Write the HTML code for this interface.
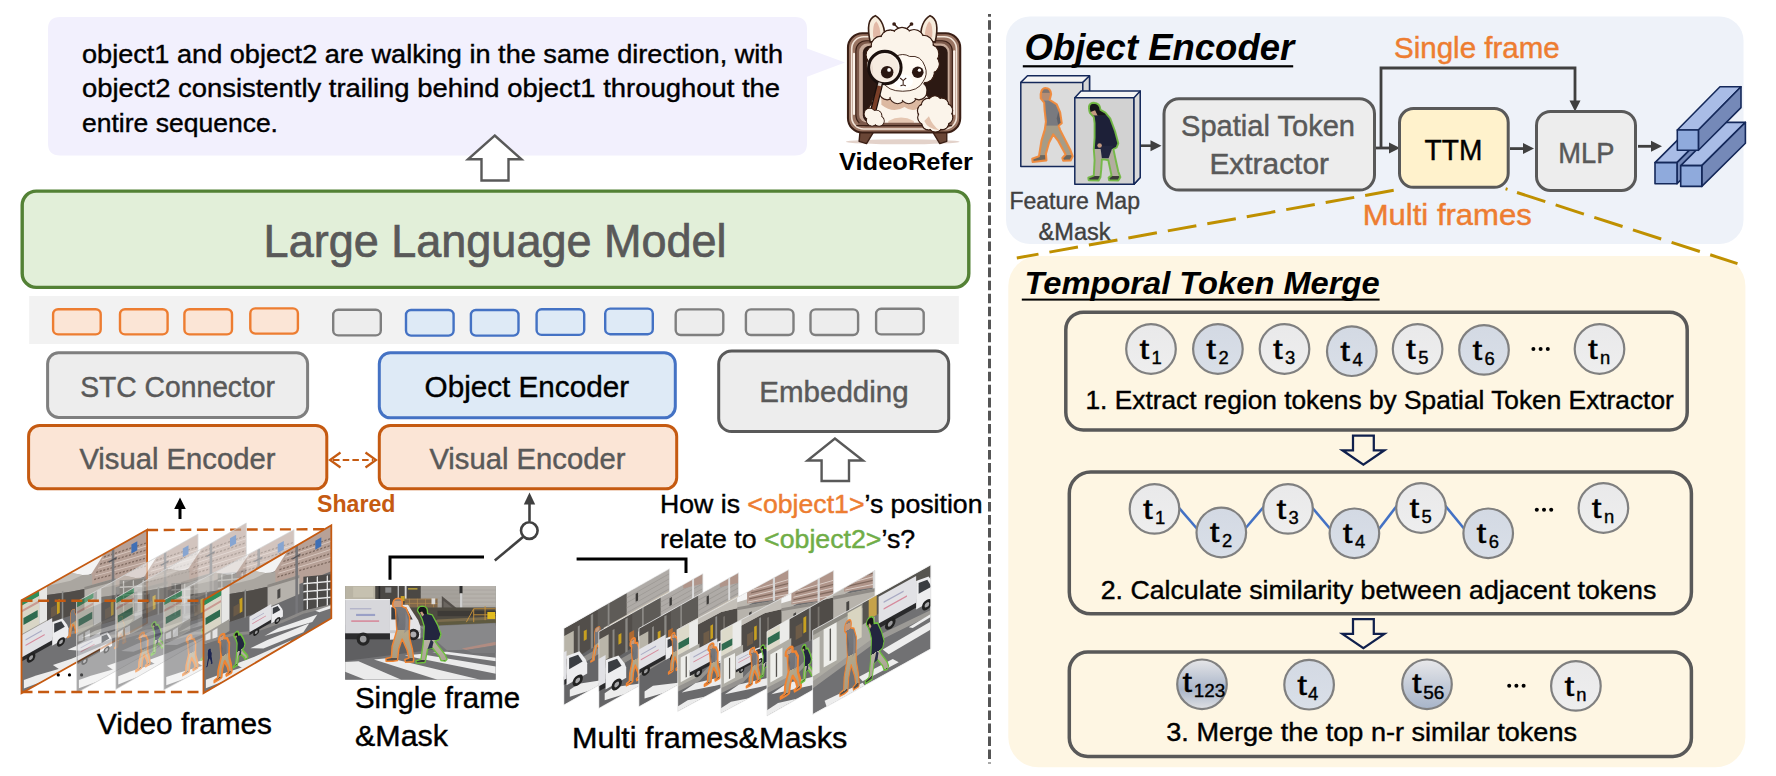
<!DOCTYPE html>
<html>
<head>
<meta charset="utf-8">
<title>VideoRefer architecture</title>
<style>
html,body{margin:0;padding:0;background:#fff;}
body{width:1776px;height:776px;overflow:hidden;font-family:"Liberation Sans",sans-serif;}
svg{display:block;}
text{font-family:"Liberation Sans",sans-serif;}
.g{fill:#595959;stroke:#595959;stroke-width:.45px;}
.k{fill:#000;stroke:#000;stroke-width:.4px;}
.o{fill:#ed7d31;stroke:#ed7d31;stroke-width:.45px;}
.b{stroke:none;}
.gr{fill:#70ad47;stroke:#70ad47;stroke-width:.45px;}
.d{fill:#404040;stroke:#404040;stroke-width:.4px;}
</style>
</head>
<body>
<svg width="1776" height="776" viewBox="0 0 1776 776">
<defs>
  <linearGradient id="gCirc" x1="0" y1="0" x2="0" y2="1">
    <stop offset="0" stop-color="#e9e9ea"/><stop offset="1" stop-color="#eeeeee"/>
  </linearGradient>
  <linearGradient id="gCircB" x1="0" y1="0" x2="0" y2="1">
    <stop offset="0" stop-color="#d3d9e3"/><stop offset="1" stop-color="#d9dfe8"/>
  </linearGradient>
  <linearGradient id="gCircD" x1="0" y1="0" x2="0" y2="1">
    <stop offset="0" stop-color="#e8e8ea"/><stop offset="0.5" stop-color="#c6cdd9"/><stop offset="1" stop-color="#a7b4c9"/>
  </linearGradient>
  <linearGradient id="gCircE" x1="0" y1="0" x2="0" y2="1">
    <stop offset="0" stop-color="#e6e6e8"/><stop offset="0.6" stop-color="#a9b5c9"/><stop offset="1" stop-color="#dfe0e3"/>
  </linearGradient>
  
  <linearGradient id="gP1" x1="0" y1="0" x2="0" y2="1">
    <stop offset="0" stop-color="#8d8078"/><stop offset="0.045" stop-color="#8d8078"/>
    <stop offset="0.045" stop-color="#c59a7c"/><stop offset="0.13" stop-color="#c59a7c"/>
    <stop offset="0.13" stop-color="#77787c"/><stop offset="0.5" stop-color="#707176"/>
    <stop offset="0.5" stop-color="#b4a88c"/><stop offset="0.94" stop-color="#a89c82"/>
    <stop offset="0.94" stop-color="#5a5048"/><stop offset="1" stop-color="#5a5048"/>
  </linearGradient>
  <linearGradient id="gP2" x1="0" y1="0" x2="0" y2="1">
    <stop offset="0" stop-color="#16161a"/><stop offset="0.13" stop-color="#16161a"/>
    <stop offset="0.13" stop-color="#23263f"/><stop offset="0.6" stop-color="#23263f"/>
    <stop offset="0.6" stop-color="#b9b3a4"/><stop offset="0.94" stop-color="#aca594"/>
    <stop offset="0.94" stop-color="#3a3a3a"/><stop offset="1" stop-color="#3a3a3a"/>
  </linearGradient>

  <!-- detailed pedestrians, coordinates of the close-up scene (1125x700) -->
  <path id="ped1p" d="M395,92 Q428,94 428,128 L424,152 L456,166 L482,232 L479,322 L482,392 L502,470 L512,545 L509,566 L451,569 L446,549 L476,538 L463,480 L426,396 L401,470 L391,556 L356,561 L306,561 L305,541 L346,532 L351,450 L386,332 L381,240 L376,172 L356,150 Q352,96 395,92 Z" fill="url(#gP1)" stroke="#f08432" stroke-linejoin="round"/>
  <path id="ped2p" d="M575,150 Q612,152 614,182 L616,206 L651,216 L691,290 L716,360 L702,401 L671,411 L691,441 L746,511 L761,546 L746,561 L716,556 L701,521 L651,461 L616,471 L601,551 L596,571 L531,576 L529,558 L566,548 L581,441 L586,391 L591,301 L576,251 L561,216 L541,186 Q540,152 575,150 Z" fill="url(#gP2)" stroke="#6cc03c" stroke-linejoin="round"/>
  <g id="ped1d"><path d="M384,172 L380,240 L388,320 L402,250 Z" fill="#5d5e62" opacity="0.6"/><path d="M452,190 L470,250 L468,330 L440,352 L450,300 Z" fill="#8b8c90" opacity="0.7"/></g>
  <g id="ped2d"><path d="M560,196 L575,190 L590,215 L575,228 Z" fill="#c9a083"/><path d="M616,470 L650,462 L660,418 L640,400 Z" fill="#2a2c48"/></g>
  <symbol id="ped1" viewBox="295 82 225 496" overflow="visible" preserveAspectRatio="none"><use href="#ped1p" stroke-width="11"/><use href="#ped1d"/></symbol>
  <symbol id="ped2" viewBox="518 140 252 446" overflow="visible" preserveAspectRatio="none"><use href="#ped2p" stroke-width="10"/><use href="#ped2d"/></symbol>
  <symbol id="ped1t" viewBox="295 82 225 496" overflow="visible" preserveAspectRatio="none"><use href="#ped1p" stroke-width="22"/><use href="#ped1d"/></symbol>
  <symbol id="ped2t" viewBox="518 140 252 446" overflow="visible" preserveAspectRatio="none"><use href="#ped2p" stroke-width="20"/><use href="#ped2d"/></symbol>

  <!-- simple small pedestrian (40x100 box) -->
  <symbol id="sp" viewBox="0 0 40 100" overflow="visible">
    <path d="M20,1 Q28,1 28,9 L27,16 L33,32 L32,48 L35,62 L38,90 L40,96 L30,97 L29,91 L31,88 L26,68 L21,57 L15,73 L11,94 L11,98 L0,98 L0,94 L5,92 L8,70 L13,50 L12,34 L12,18 Q12,1 20,1 Z"/>
  </symbol>

  <!-- close-up street scene (single frame) -->
  <symbol id="closeScene" viewBox="0 0 1125 700" preserveAspectRatio="none">
    <rect x="0" y="0" width="1125" height="700" fill="#747476"/>
    <!-- buildings -->
    <rect x="0" y="0" width="230" height="100" fill="#b9b4a4"/>
    <rect x="60" y="5" width="150" height="80" fill="#c6c1b0"/>
    <rect x="225" y="0" width="345" height="150" fill="#4b4844"/>
    <rect x="250" y="0" width="12" height="95" fill="#2a2a2a"/>
    <rect x="392" y="0" width="10" height="90" fill="#bdbdbd"/>
    <rect x="300" y="10" width="45" height="40" fill="#8a8a8a"/>
    <rect x="445" y="0" width="14" height="100" fill="#d8d8d8"/>
    <rect x="415" y="75" width="30" height="38" fill="#c9a227"/>
    <rect x="470" y="15" width="70" height="12" fill="#b09a3a"/>
    <rect x="565" y="0" width="560" height="185" fill="#a5a19b"/>
    <rect x="880" y="0" width="245" height="185" fill="#b6b2ac"/>
    <g stroke="#97938d" stroke-width="3"><path d="M565,30 H1125 M565,60 H1125 M565,90 H1125 M565,120 H1125 M565,150 H1125"/></g>
    <rect x="854" y="0" width="22" height="55" fill="#2c2c2c"/>
    <rect x="858" y="55" width="18" height="125" fill="#cfcfcf"/>
    <polygon points="722,75 865,192 722,192" fill="#55504b"/>
    <polygon points="735,110 840,192 735,192" fill="#6b6660"/>
    <!-- fence -->
    <rect x="445" y="95" width="245" height="68" fill="#80684c"/>
    <g stroke="#b38a4e" stroke-width="5"><path d="M445,98 H690 M445,130 H690 M480,95 V163 M540,95 V163 M600,95 V163 M660,95 V163"/></g>
    <rect x="645" y="92" width="28" height="44" fill="#dcdcdc"/>
    <!-- mid band -->
    <rect x="470" y="160" width="655" height="135" fill="#4f4b42"/>
    <rect x="690" y="185" width="435" height="40" fill="#3d3a36"/>
    <polygon points="690,250 1125,228 1125,290 600,300" fill="#7b6c4e"/>
    <polygon points="700,268 1125,250 1125,290 620,300" fill="#5f5a40"/>
    <g stroke="#c8923c" stroke-width="7" fill="none"><path d="M905,270 L960,170 H1125 M960,170 V270 M1045,150 V255 M960,215 H1125"/></g>
    <rect x="1062" y="194" width="58" height="52" fill="#e2bb1f"/>
    <!-- road -->
    <polygon points="0,290 560,300 1125,275 1125,700 0,700" fill="#737375"/>
    <polygon points="560,305 1125,278 1125,470 760,480" fill="#88888a"/>
    <polygon points="870,466 1125,416 1125,442 905,478" fill="#b08c82"/>
    <polygon points="905,478 1125,442 1125,500 950,500" fill="#7c7c7e"/>
    <polygon points="0,400 600,385 700,470 0,560" fill="#5f5f61"/>
    <!-- truck -->
    <rect x="0" y="348" width="365" height="50" fill="#2c2c2e"/>
    <rect x="0" y="97" width="335" height="256" fill="#d7d7db"/>
    <rect x="0" y="97" width="335" height="8" fill="#efefef"/>
    <rect x="36" y="166" width="160" height="8" fill="#a9aac4"/>
    <rect x="82" y="208" width="142" height="16" fill="#9aa0c6"/>
    <rect x="46" y="256" width="208" height="12" fill="#d68a9c"/>
    <polygon points="335,140 470,140 545,255 562,300 562,392 335,402" fill="#e6e6e8"/>
    <polygon points="345,158 455,158 505,250 345,250" fill="#3a3d42"/>
    <rect x="335" y="330" width="227" height="22" fill="#c9c9cb"/>
    <circle cx="135" cy="396" r="49" fill="#262626"/><circle cx="135" cy="396" r="25" fill="#9c9c9e"/>
    <circle cx="510" cy="362" r="43" fill="#262626"/><circle cx="510" cy="362" r="22" fill="#adadaf"/>
    <!-- crosswalk -->
    <g fill="#ebebeb">
      <polygon points="0,568 100,562 420,700 150,700 0,640"/>
      <polygon points="215,548 330,538 1010,700 690,700"/>
      <polygon points="445,518 560,508 1125,600 1125,655"/>
      <polygon points="650,495 760,490 1125,535 1125,562"/>
    </g>
    <use href="#ped1" x="295" y="82" width="225" height="496"/>
    <use href="#ped2" x="518" y="140" width="252" height="446"/>
  </symbol>

  <!-- wide street scene (video frames), 128x93 -->
  <symbol id="wideBg" viewBox="0 0 128 93" preserveAspectRatio="none">
    <rect x="0" y="0" width="128" height="93" fill="#6c6c6e"/>
    <!-- sky -->
    <polygon points="44,0 100,0 100,10 80,14 60,11 44,4" fill="#f3f3f3"/>
    <!-- brown apartment building -->
    <polygon points="70,14 84,0 128,0 128,46 96,40 70,27" fill="#b7a197"/>
    <g stroke="#7e6a60" stroke-width="1.3" stroke-dasharray="2.2 1.6"><path d="M80,8 L128,20 M76,14 L128,28 M74,20 L128,36 M84,3 L128,13"/></g>
    <g stroke="#d8c8c0" stroke-width="0.8"><path d="M82,5 L128,16 M78,11 L128,24 M75,17 L128,32"/></g>
    <rect x="112" y="6" width="6" height="9" fill="#3f6fb5"/>
    <!-- concrete overpass -->
    <polygon points="18,0 50,0 62,9 72,14 72,27 50,19 26,9 18,6" fill="#aaa6a0"/>
    <polygon points="26,0 50,0 62,9 50,8" fill="#c4c0ba"/>
    <!-- light grey building -->
    <polygon points="64,22 96,31 96,50 64,45" fill="#b6b2ac"/>
    <polygon points="64,22 96,31 96,34 64,25" fill="#8d8984"/>
    <rect x="74" y="33" width="3" height="9" fill="#4a4846"/>
    <!-- underpass dark -->
    <polygon points="26,9 50,19 64,24 64,45 50,43 26,37" fill="#504c48"/>
    <rect x="36" y="20" width="3" height="14" fill="#c8a020"/>
    <rect x="41" y="14" width="1.6" height="28" fill="#8a8a88"/>
    <rect x="30" y="24" width="6" height="10" fill="#6a5a48"/>
    <!-- left facade -->
    <rect x="0" y="5" width="18" height="36" fill="#d9d6c6"/>
    <rect x="0" y="0" width="18" height="5.5" fill="#2f8f5a"/>
    <rect x="0" y="10" width="18" height="2.4" fill="#c99a92"/>
    <rect x="2" y="19" width="14.5" height="7" fill="#2f6b4f"/>
    <rect x="18" y="0" width="8" height="36" fill="#e7e7e5"/>
    <rect x="0" y="34" width="26" height="12" fill="#9c9a94"/>
    <rect x="2" y="36" width="5" height="9" fill="#e4e4e4"/><rect x="9" y="36" width="5" height="9" fill="#e4e4e4"/>
    <!-- fence + pole -->
    <polygon points="100,35 128,49 128,80 100,69" fill="#4c4a48"/>
    <g stroke="#e8e8e8" stroke-width="1.3" fill="none"><path d="M100,42 L128,56 M100,50 L128,64 M100,58 L128,72 M104,38 V70 M114,43 V74 M124,48 V79"/></g>
    <rect x="92" y="0" width="2.6" height="73" fill="#77777a"/>
    <rect x="89" y="10" width="8" height="1.6" fill="#55555a"/>
    <!-- road -->
    <polygon points="0,44 30,53 46,61 80,69 100,72 128,82 128,93 0,93" fill="#727274"/>
    <polygon points="0,41 30,50 46,58 80,66 100,69 128,79 128,82 100,72 80,69 46,61 30,53 0,44" fill="#8c8a88"/>
    <g fill="#ececec">
      <polygon points="61,71.5 75,71.8 114,81 109,85.5"/>
      <polygon points="47,75.5 64,77.3 106,85 100,90.5 60,83.5"/>
      <polygon points="32,82.5 51,86.5 88,91.5 76,96 40,92"/>
      <polygon points="2.4,81 15,83.6 50,92.7 27,94 2.4,89.5"/>
      <polygon points="112,76 128,80 128,83 116,80"/>
    </g>
  </symbol>

  <!-- mid-range street scene for multi frames, 112x83 -->
  <symbol id="midBg" viewBox="0 0 112 83" preserveAspectRatio="none">
    <rect x="0" y="0" width="112" height="83" fill="#6d6d6f"/>
    <rect x="0" y="0" width="112" height="14" fill="#bab6af"/>
    <polygon points="56,0 72,0 72,8 56,4" fill="#f4f4f4"/>
    <polygon points="70,0 112,0 112,29 70,11.5" fill="#b0958a"/>
    <g stroke="#80695e" stroke-width="1.2"><path d="M74,3 L112,14 M72,8 L112,21"/></g>
    <g stroke="#dccfc8" stroke-width="0.9"><path d="M76,1 L112,10 M72,5.5 L112,17.5 M71,10.5 L112,25"/></g>
    <rect x="96" y="0" width="2.2" height="40" fill="#d6d6d6"/>
    <polygon points="60,10 112,29 112,47 60,38" fill="#b7b3ac"/>
    <polygon points="60,10 112,29 112,32 60,13" fill="#8f8b86"/>
    <rect x="72" y="22" width="2.6" height="9" fill="#474543"/>
    <polygon points="20,6 44,6 60,11 60,40 20,35" fill="#504c48"/>
    <polygon points="20,0 60,0 60,11 44,6 20,6" fill="#c3bfb8"/>
    <rect x="33" y="14" width="2.6" height="14" fill="#c8a020"/>
    <rect x="38" y="8" width="1.8" height="30" fill="#8c8c8a"/>
    <rect x="26" y="18" width="6" height="12" fill="#6e5c48"/>
    <rect x="46" y="12" width="1.6" height="28" fill="#77736d"/>
    <rect x="0" y="0" width="20" height="27" fill="#dddaca"/>
    <rect x="0.6" y="14" width="11" height="6.7" fill="#2f6b4f"/>
    <rect x="11.6" y="0" width="8.8" height="27" fill="#ebebe9"/>
    <rect x="0" y="26" width="22" height="34" fill="#b0aea6"/>
    <rect x="3" y="30" width="11" height="25" fill="#eeeeea"/><rect x="8" y="32" width="1.2" height="21" fill="#55534f"/>
    <polygon points="0,58 22,59 60,40 112,48 112,53 60,46 22,65 0,64" fill="#959390"/>
    <polygon points="0,63 22,64 60,45 112,52 112,83 0,83" fill="#6a6a6c"/>
    <g fill="#ececec">
      <polygon points="4,66 18,64 70,80 56,83 40,78"/>
      <polygon points="40,56 52,54 112,71 112,76 96,73"/>
      <polygon points="0,78 10,77 28,83 0,83"/>
      <polygon points="70,50 80,49 112,57 112,60"/>
    </g>
  </symbol>

  <symbol id="nearBg" viewBox="0 0 106 77" preserveAspectRatio="none">
    <rect x="0" y="0" width="106" height="77" fill="#656567"/>
    <polygon points="0,0 64,0 64,32 0,38" fill="#524e4a"/>
    <polygon points="34,0 64,0 64,24 34,27" fill="#5e5b57"/>
    <rect x="63" y="0" width="43" height="23" fill="#afaba7"/>
    <g stroke="#9c9894" stroke-width="0.8"><path d="M63,5 H106 M63,10 H106 M63,15 H106 M63,20 H106"/></g>
    <rect x="72" y="6" width="2.4" height="8" fill="#3c3a38"/>
    <rect x="40" y="22" width="66" height="9" fill="#cbc3b4"/>
    <rect x="40" y="31" width="66" height="10" fill="#494643"/>
    <rect x="0" y="8" width="10" height="24" fill="#b9b5a9"/>
    <g fill="#8a8884"><rect x="14" y="6" width="2" height="30"/><rect x="27" y="2" width="2.4" height="34"/><rect x="44" y="0" width="1.8" height="36"/></g>
    <rect x="20" y="14" width="3" height="10" fill="#c8a020"/><rect x="31" y="18" width="5" height="9" fill="#b06a30"/><rect x="50" y="26" width="3" height="9" fill="#c8a020"/>
    <polygon points="0,40 106,38 106,43 0,47" fill="#8f8d8a"/>
    <polygon points="0,47 106,43 106,77 0,77" fill="#656567"/>
    <g fill="#ececec"><polygon points="6,65 15,64 44,76 38,80 6,72"/><polygon points="60,52 72,51 106,62 106,66 92,63"/></g>
  </symbol>

  <symbol id="truckS" viewBox="0 0 36 24" overflow="visible">
    <rect x="0" y="14" width="24" height="5" fill="#2a2a2c"/>
    <rect x="0" y="0" width="22.5" height="16" fill="#e1e1e5"/>
    <rect x="3" y="4.5" width="12" height="0.9" fill="#a9aac4"/><rect x="3" y="8.5" width="14" height="0.9" fill="#d68a9c"/>
    <polygon points="22.5,3 30,4.5 33.5,11 34.5,14 34.5,20 22.5,20" fill="#ededef"/>
    <polygon points="24,5 29.2,6 31.8,11.5 24,11.5" fill="#3a3d42"/>
    <circle cx="7" cy="20" r="3.2" fill="#222"/><circle cx="7" cy="20" r="1.5" fill="#9a9a9c"/>
    <circle cx="29" cy="20.8" r="3" fill="#222"/><circle cx="29" cy="20.8" r="1.4" fill="#a8a8aa"/>
  </symbol>

</defs>
<rect x="0" y="0" width="1776" height="776" fill="#ffffff"/>

<!-- ================= LEFT SIDE ================= -->
<g id="left">
  <!-- speech bubble -->
  <path d="M60,17 H795 Q807,17 807,29 V48.5 L845,62.6 L807,76.7 V143.5 Q807,155.5 795,155.5 H60 Q48,155.5 48,143.5 V29 Q48,17 60,17 Z" fill="#f2f0fd"/>
  <text class="k" x="82" y="62.6" font-size="26.5" textLength="701" lengthAdjust="spacingAndGlyphs">object1 and object2 are walking in the same direction, with</text>
  <text class="k" x="82" y="96.6" font-size="26.5" textLength="698" lengthAdjust="spacingAndGlyphs">object2 consistently trailing behind object1 throughout the</text>
  <text class="k" x="82" y="131.6" font-size="26.5" textLength="196" lengthAdjust="spacingAndGlyphs">entire sequence.</text>

  <!-- up arrow 1 -->
  <path d="M494.7,135.5 L521.5,159.3 H508.5 V180.5 H481.5 V159.3 H468 Z" fill="#fff" stroke="#595959" stroke-width="2.4" stroke-linejoin="miter"/>

  <!-- LLM box -->
  <rect x="22.2" y="191.1" width="946.6" height="96.3" rx="14" ry="14" fill="#e2efd9" stroke="#538135" stroke-width="3.4"/>
  <text class="g" style="stroke-width:.7px" x="263.6" y="256.5" font-size="45.5" textLength="463" lengthAdjust="spacingAndGlyphs">Large Language Model</text>

  <!-- token strip -->
  <rect x="29.2" y="296" width="929.6" height="48" fill="#f2f2f2"/>
  <g fill="#fbe5d6" stroke="#ed7d31" stroke-width="2.4">
    <rect x="53.1" y="309.2" width="47.6" height="25.2" rx="5"/>
    <rect x="120" y="309.2" width="47.6" height="25.2" rx="5"/>
    <rect x="184.4" y="309.2" width="47.6" height="25.2" rx="5"/>
    <rect x="250.3" y="308.4" width="47.6" height="25.2" rx="5"/>
  </g>
  <g fill="#ededed" stroke="#7f7f7f" stroke-width="2.4">
    <rect x="333.2" y="309.8" width="47.6" height="25.6" rx="5"/>
    <rect x="675.7" y="309.4" width="47.6" height="25.6" rx="5"/>
    <rect x="745.9" y="309.4" width="47.6" height="25.6" rx="5"/>
    <rect x="810.5" y="309.4" width="47.6" height="25.6" rx="5"/>
    <rect x="876.1" y="308.8" width="47.6" height="25.6" rx="5"/>
  </g>
  <g fill="#deeaf6" stroke="#4472c4" stroke-width="2.4">
    <rect x="406" y="310" width="47.6" height="25.6" rx="5"/>
    <rect x="470.9" y="310" width="47.6" height="25.6" rx="5"/>
    <rect x="536.6" y="309.3" width="47.6" height="25.6" rx="5"/>
    <rect x="605.2" y="308.6" width="47.6" height="25.6" rx="5"/>
  </g>

  <!-- STC connector -->
  <rect x="47.6" y="352.8" width="260" height="64.6" rx="11" fill="#ededed" stroke="#7f7f7f" stroke-width="3"/>
  <text class="g" x="80.2" y="396.7" font-size="29.5" textLength="194.8" lengthAdjust="spacingAndGlyphs">STC Connector</text>

  <!-- Visual Encoder 1 -->
  <rect x="28.6" y="425.4" width="298.2" height="63.4" rx="11" fill="#fbe5d6" stroke="#c55a11" stroke-width="3"/>
  <text class="g" x="79.4" y="469" font-size="29.5" textLength="196" lengthAdjust="spacingAndGlyphs">Visual Encoder</text>

  <!-- shared dashed double arrow -->
  <g stroke="#c55a11" stroke-width="2.2" fill="none">
    <path d="M333,460 H373" stroke-dasharray="6.5 3.2"/>
    <path d="M340.5,452.5 L330,460 L340.5,467.5"/>
    <path d="M365.5,452.5 L376,460 L365.5,467.5"/>
  </g>
  <text x="317" y="511.5" font-size="23.5" font-weight="bold" fill="#c55a11" textLength="78.5" lengthAdjust="spacingAndGlyphs">Shared</text>

  <!-- Object Encoder -->
  <rect x="379.3" y="352.8" width="296" height="65" rx="11" fill="#deeaf6" stroke="#4472c4" stroke-width="3"/>
  <text class="k" x="424.6" y="396.5" font-size="29.5" textLength="204.5" lengthAdjust="spacingAndGlyphs">Object Encoder</text>

  <!-- Visual Encoder 2 -->
  <rect x="379.3" y="425.4" width="297.4" height="63.4" rx="11" fill="#fbe5d6" stroke="#c55a11" stroke-width="3"/>
  <text class="g" x="429.4" y="468.6" font-size="29.5" textLength="196" lengthAdjust="spacingAndGlyphs">Visual Encoder</text>

  <!-- Embedding -->
  <rect x="718.7" y="351" width="230" height="80.5" rx="13" fill="#ededed" stroke="#595959" stroke-width="3"/>
  <text class="g" x="759.3" y="402.3" font-size="29.5" textLength="149.4" lengthAdjust="spacingAndGlyphs">Embedding</text>

  <!-- up arrow 2 -->
  <path d="M834.9,438.5 L863,460.5 H849 V481 H821.6 V460.5 H807.5 Z" fill="#fff" stroke="#595959" stroke-width="2.4"/>

  <!-- question text -->
  <text x="660" y="512.8" font-size="26" textLength="322.5" lengthAdjust="spacingAndGlyphs"><tspan class="k">How is </tspan><tspan class="o">&lt;object1&gt;</tspan><tspan class="k">’s position</tspan></text>
  <text x="660" y="548" font-size="26" textLength="255.2" lengthAdjust="spacingAndGlyphs"><tspan class="k">relate to </tspan><tspan class="gr">&lt;object2&gt;</tspan><tspan class="k">’s?</tspan></text>

  <!-- small up arrow from video frames -->
  <path d="M180,519 V506" stroke="#000" stroke-width="3" fill="none"/>
  <path d="M180,497.5 L185.8,509 H174.2 Z" fill="#000"/>

  <!-- switch -->
  <g stroke="#404040" stroke-width="2.6" fill="none">
    <path d="M529.5,521.5 V503"/>
    <circle cx="529.3" cy="530.6" r="8.3" fill="#fff"/>
    <path d="M523,537 L494.8,560.5"/>
  </g>
  <path d="M529.5,492.5 L535.2,504.5 H523.8 Z" fill="#404040"/>

  <!-- brackets -->
  <path d="M390,579.8 V557 H484" stroke="#000" stroke-width="3" fill="none"/>
  <path d="M576.6,558.9 H686 V573" stroke="#000" stroke-width="3" fill="none"/>

  <g id="videoCuboid">
<path d="M147.1,530 L331.3,529.2" stroke="#c55a11" stroke-width="2.4" stroke-dasharray="11 5.6" fill="none"/>
<g transform="matrix(0.98125,-0.55048,0,1.00000,21.500,600.200)" opacity="1.0">
<clipPath id="cl1"><rect x="0" y="0" width="128" height="93"/></clipPath>
<g clip-path="url(#cl1)"><use href="#wideBg" x="0" y="0" width="128" height="93"/><use href="#truckS" x="0.00" y="35.00" width="50.00" height="33.33"/><svg x="47.00" y="38.00" width="10.40" height="26.00" viewBox="0 0 40 100" overflow="visible"><path d="M20,1 Q28,1 28,9 L27,16 L33,32 L32,48 L35,62 L38,90 L40,96 L30,97 L29,91 L31,88 L26,68 L21,57 L15,73 L11,94 L11,98 L0,98 L0,94 L5,92 L8,70 L13,50 L12,34 L12,18 Q12,1 20,1 Z" fill="#b0a488" stroke="#f08432" stroke-width="4" stroke-linejoin="round"/><path d="M20,1 Q28,1 28,9 L27,16 L33,32 L32,50 L13,52 L12,34 L12,18 Q12,1 20,1 Z" fill="#77787c"/></svg></g>
</g>
<path d="M21.5,600.2 L147.1,529.7 L147.1,622.7 L21.5,693.2 Z" fill="none" stroke="#c55a11" stroke-width="1.8" stroke-linejoin="miter"/>
<g transform="matrix(0.94844,-0.53113,0,0.97849,76.600,602.000)" opacity="0.62">
<clipPath id="cl2"><rect x="0" y="0" width="128" height="93"/></clipPath>
<g clip-path="url(#cl2)"><use href="#wideBg" x="0" y="0" width="128" height="93"/><use href="#truckS" x="1.00" y="44.00" width="38.00" height="25.33"/><svg x="40.00" y="40.00" width="12.00" height="30.00" viewBox="0 0 40 100" overflow="visible"><path d="M20,1 Q28,1 28,9 L27,16 L33,32 L32,48 L35,62 L38,90 L40,96 L30,97 L29,91 L31,88 L26,68 L21,57 L15,73 L11,94 L11,98 L0,98 L0,94 L5,92 L8,70 L13,50 L12,34 L12,18 Q12,1 20,1 Z" fill="#b0a488" stroke="#f08432" stroke-width="4" stroke-linejoin="round"/><path d="M20,1 Q28,1 28,9 L27,16 L33,32 L32,50 L13,52 L12,34 L12,18 Q12,1 20,1 Z" fill="#77787c"/></svg></g>
</g>
<path d="M76.6,602.0 L198.0,534.0 L198.0,625.0 L76.6,693.0 Z" fill="none" stroke="#d9d9d9" stroke-width="0.8" stroke-linejoin="miter"/>
<g transform="matrix(1.01953,-0.58623,0,0.98280,115.800,598.000)" opacity="0.62">
<clipPath id="cl3"><rect x="0" y="0" width="128" height="93"/></clipPath>
<g clip-path="url(#cl3)"><use href="#wideBg" x="0" y="0" width="128" height="93"/><use href="#ped1t" x="19.00" y="50.00" width="15.00" height="38.00"/><use href="#ped2t" x="34.00" y="46.00" width="14.00" height="34.00"/></g>
</g>
<path d="M115.8,598.0 L246.3,523.0 L246.3,614.4 L115.8,689.4 Z" fill="none" stroke="#d9d9d9" stroke-width="0.8" stroke-linejoin="miter"/>
<g transform="matrix(1.01719,-0.54928,0,0.96774,163.800,600.000)" opacity="0.62">
<clipPath id="cl4"><rect x="0" y="0" width="128" height="93"/></clipPath>
<g clip-path="url(#cl4)"><use href="#wideBg" x="0" y="0" width="128" height="93"/><use href="#ped1t" x="18.00" y="50.00" width="16.00" height="40.00"/><use href="#ped2t" x="36.00" y="50.00" width="14.00" height="34.00"/></g>
</g>
<path d="M163.8,600.0 L294.0,529.7 L294.0,619.7 L163.8,690.0 Z" fill="none" stroke="#d9d9d9" stroke-width="0.8" stroke-linejoin="miter"/>
<path d="M21.5,600.7 H203.5" stroke="#c55a11" stroke-width="2.6" stroke-dasharray="11 5.6" fill="none"/>
<path d="M21.5,692 H203.5" stroke="#c55a11" stroke-width="2.6" stroke-dasharray="11 5.6" fill="none"/>
<g transform="matrix(0.99844,-0.58508,0,1.00000,203.500,600.200)" opacity="1.0">
<clipPath id="cl5"><rect x="0" y="0" width="128" height="93"/></clipPath>
<g clip-path="url(#cl5)"><use href="#wideBg" x="0" y="0" width="128" height="93"/><use href="#truckS" x="46.00" y="43.50" width="35.00" height="23.33"/><use href="#ped1t" x="10.00" y="44.00" width="19.00" height="46.00"/><use href="#ped2t" x="29.00" y="50.00" width="16.00" height="36.00"/><svg x="2.40" y="52.00" width="6.80" height="17.00" viewBox="0 0 40 100" overflow="visible"><path d="M20,1 Q28,1 28,9 L27,16 L33,32 L32,48 L35,62 L38,90 L40,96 L30,97 L29,91 L31,88 L26,68 L21,57 L15,73 L11,94 L11,98 L0,98 L0,94 L5,92 L8,70 L13,50 L12,34 L12,18 Q12,1 20,1 Z" fill="#1c2450" stroke="none" stroke-width="0" stroke-linejoin="round"/><path d="M20,1 Q28,1 28,9 L27,16 L33,32 L32,50 L13,52 L12,34 L12,18 Q12,1 20,1 Z" fill="#1c2450"/></svg></g>
</g>
<path d="M203.5,600.2 L331.3,525.3 L331.3,618.3 L203.5,693.2 Z" fill="none" stroke="#c55a11" stroke-width="1.8" stroke-linejoin="miter"/>
<g fill="#000"><circle cx="58.3" cy="674.9" r="1.6"/><circle cx="69.5" cy="674.9" r="1.6"/><circle cx="81.6" cy="674.9" r="1.6" opacity="0.6"/></g>
</g>
<use href="#closeScene" x="345.1" y="586" width="150.7" height="93.8"/>
<g id="multiFrames">
<g transform="matrix(1,-0.56500,0,1,563.80,628.40)" opacity="1.0">
<clipPath id="cl6"><rect x="0" y="0" width="105.8" height="76.7"/></clipPath>
<g clip-path="url(#cl6)">
<svg x="0" y="0" width="105.8" height="76.7" viewBox="0 0 106 77" preserveAspectRatio="none"><use href="#nearBg" x="0" y="0" width="106" height="77"/></svg>
<use href="#truckS" x="-36.00" y="24.00" width="62.00" height="41.33"/><svg x="27.00" y="17.60" width="13.00" height="32.00" viewBox="0 0 40 100" preserveAspectRatio="none" overflow="visible"><path d="M20,1 Q28,1 28,9 L27,16 L33,32 L32,48 L35,62 L38,90 L40,96 L30,97 L29,91 L31,88 L26,68 L21,57 L15,73 L11,94 L11,98 L0,98 L0,94 L5,92 L8,70 L13,50 L12,34 L12,18 Q12,1 20,1 Z" fill="#b0a488" stroke="#f08432" stroke-width="3.4" stroke-linejoin="round"/><path d="M20,1 Q28,1 28,9 L27,16 L33,32 L32,50 L13,52 L12,34 L12,18 Q12,1 20,1 Z" fill="#77787c"/><circle cx="20" cy="8" r="6.5" fill="#c59a7c"/></svg>
</g></g>
<path d="M563.8,628.4 L669.6,568.6 L669.6,645.3 L563.8,705.1 Z" fill="none" stroke="#e9e9e9" stroke-width="0.8"/>
<g transform="matrix(1,-0.55800,0,1,598.80,631.70)" opacity="1.0">
<clipPath id="cl7"><rect x="0" y="0" width="104.1" height="76.7"/></clipPath>
<g clip-path="url(#cl7)">
<svg x="0" y="0" width="104.1" height="76.7" viewBox="0 0 106 77" preserveAspectRatio="none"><use href="#nearBg" x="0" y="0" width="106" height="77"/><polygon points="86,0 106,0 106,10 86,4" fill="#b0958a"/><rect x="95" y="0" width="2" height="22" fill="#dcdcdc"/></svg>
<use href="#truckS" x="-32.00" y="27.00" width="62.00" height="41.33"/><use href="#ped1t" x="27.00" y="24.80" width="16.00" height="46.00"/>
</g></g>
<path d="M598.8,631.7 L702.9,573.6 L702.9,650.3 L598.8,708.4 Z" fill="none" stroke="#e9e9e9" stroke-width="0.8"/>
<g transform="matrix(1,-0.56000,0,1,638.90,628.40)" opacity="1.0">
<clipPath id="cl8"><rect x="0" y="0" width="99.7" height="78.4"/></clipPath>
<g clip-path="url(#cl8)">
<svg x="0" y="0" width="99.7" height="78.4" viewBox="0 0 106 77" preserveAspectRatio="none"><use href="#nearBg" x="0" y="0" width="106" height="77"/><polygon points="86,0 106,0 106,10 86,4" fill="#b0958a"/><rect x="95" y="0" width="2" height="22" fill="#dcdcdc"/></svg>
<use href="#truckS" x="-2.00" y="21.00" width="46.00" height="30.67"/><use href="#ped1t" x="29.00" y="23.00" width="12.00" height="40.50"/>
</g></g>
<path d="M638.9,628.4 L738.6,572.6 L738.6,651.0 L638.9,706.8 Z" fill="none" stroke="#e9e9e9" stroke-width="0.8"/>
<g transform="matrix(1,-0.54000,0,1,677.70,629.50)" opacity="1.0">
<clipPath id="cl9"><rect x="0" y="0" width="111" height="82"/></clipPath>
<g clip-path="url(#cl9)">
<svg x="0" y="0" width="111" height="82" viewBox="0 0 112 83" preserveAspectRatio="none"><use href="#midBg" x="0" y="0" width="112" height="83"/></svg>
<use href="#truckS" x="12.00" y="30.00" width="44.00" height="29.33"/><use href="#ped1t" x="26.00" y="31.40" width="17.00" height="41.00"/>
</g></g>
<path d="M677.7,629.5 L788.7,569.6 L788.7,651.6 L677.7,711.5 Z" fill="none" stroke="#e9e9e9" stroke-width="0.8"/>
<g transform="matrix(1,-0.53400,0,1,720.90,630.60)" opacity="1.0">
<clipPath id="cl10"><rect x="0" y="0" width="112.8" height="82.6"/></clipPath>
<g clip-path="url(#cl10)">
<svg x="0" y="0" width="112.8" height="82.6" viewBox="0 0 112 83" preserveAspectRatio="none"><use href="#midBg" x="0" y="0" width="112" height="83"/></svg>
<use href="#truckS" x="15.00" y="34.00" width="30.00" height="20.00"/><use href="#ped1t" x="24.80" y="33.50" width="15.00" height="38.50"/><use href="#ped2t" x="38.50" y="36.00" width="13.00" height="33.00"/>
</g></g>
<path d="M720.9,630.6 L833.7,570.4 L833.7,653.0 L720.9,713.2 Z" fill="none" stroke="#e9e9e9" stroke-width="0.8"/>
<g transform="matrix(1,-0.56700,0,1,767.00,631.60)" opacity="1.0">
<clipPath id="cl11"><rect x="0" y="0" width="108" height="84.4"/></clipPath>
<g clip-path="url(#cl11)">
<svg x="0" y="0" width="108" height="84.4" viewBox="0 8 98 75" preserveAspectRatio="none"><use href="#midBg" x="0" y="0" width="112" height="83"/></svg>
<use href="#ped1t" x="12.70" y="27.60" width="22.00" height="49.00"/><use href="#ped2t" x="33.50" y="33.40" width="14.00" height="38.50"/>
</g></g>
<path d="M767.0,631.6 L875.0,570.4 L875.0,654.8 L767.0,716.0 Z" fill="none" stroke="#e9e9e9" stroke-width="0.8"/>
<g transform="matrix(1,-0.55500,0,1,812.60,630.50)" opacity="1.0">
<clipPath id="cl12"><rect x="0" y="0" width="118.2" height="84"/></clipPath>
<g clip-path="url(#cl12)">
<svg x="0" y="0" width="118.2" height="84" viewBox="0 0 118 84" preserveAspectRatio="none">
<rect x="0" y="0" width="118" height="84" fill="#717173"/>
<polygon points="0,0 62,0 62,42 0,52" fill="#adaba3"/>
<rect x="0" y="0" width="62" height="5" fill="#8d8b84"/>
<rect x="11" y="5" width="13" height="38" fill="#eeeeea"/><rect x="17" y="8" width="1.4" height="32" fill="#5a5854"/>
<rect x="0" y="10" width="7" height="36" fill="#e6e6e2"/>
<rect x="35" y="2" width="14" height="32" fill="#d9d5c1"/>
<polygon points="50,0 118,0 118,12 50,22" fill="#56544f"/>
<rect x="56" y="0" width="8" height="20" fill="#c5a24a"/>
<polygon points="0,51 62,41 118,45 118,50 62,47 0,58" fill="#9c9a96"/>
<g fill="#ededed"><polygon points="70,58 118,56.5 118,64.5 76,66"/><polygon points="46,72 80,73 86,79.5 50,78.5"/><polygon points="12,77 50,80 52,84 14,84"/><polygon points="96,50 118,49 118,52 100,53"/></g>
</svg>
<use href="#truckS" x="66.00" y="3.00" width="60.00" height="40.00"/><use href="#ped1" x="26.30" y="8.00" width="21.00" height="75.50"/><use href="#ped2" x="51.50" y="17.00" width="25.50" height="67.00"/>
</g></g>
<path d="M812.6,630.5 L930.8,564.9 L930.8,648.9 L812.6,714.5 Z" fill="none" stroke="#e9e9e9" stroke-width="0.8"/>
</g>

  <!-- labels -->
  <text class="k" x="97" y="734.3" font-size="29" textLength="175" lengthAdjust="spacingAndGlyphs">Video frames</text>
  <text class="k" x="355" y="707.5" font-size="29" textLength="165" lengthAdjust="spacingAndGlyphs">Single frame</text>
  <text class="k" x="355" y="746.3" font-size="29" textLength="93" lengthAdjust="spacingAndGlyphs">&amp;Mask</text>
  <text class="k" x="572" y="748.3" font-size="29" textLength="275.4" lengthAdjust="spacingAndGlyphs">Multi frames&amp;Masks</text>

  <g id="mascot" transform="translate(835,5) scale(0.23186)">
<ellipse cx="292" cy="590" rx="245" ry="11" fill="#e3d2ca"/>
<polygon points="108,545 168,545 136,598 104,588" fill="#6a4636" stroke="#3a1f15" stroke-width="6" stroke-linejoin="round"/>
<polygon points="420,545 482,545 482,588 452,598" fill="#6a4636" stroke="#3a1f15" stroke-width="6" stroke-linejoin="round"/>
<rect x="56" y="122" width="484" height="428" rx="62" fill="#9a7563" stroke="#3a1f15" stroke-width="9"/>
<rect x="72" y="137" width="452" height="398" rx="52" fill="none" stroke="#f2e4d8" stroke-width="7"/>
<rect x="90" y="154" width="416" height="366" rx="44" fill="#7d5a4b" stroke="#3a1f15" stroke-width="5"/>
<rect x="104" y="166" width="390" height="342" rx="36" fill="#c8ab9a"/>
<path d="M82,210 V470" stroke="#fbf1e8" stroke-width="9" stroke-linecap="round"/><path d="M514,200 V470" stroke="#fbf1e8" stroke-width="9" stroke-linecap="round"/>
<rect x="120" y="176" width="366" height="330" rx="30" fill="#2c1913"/>
<path d="M152,160 Q130,62 174,46 Q218,72 214,150 Z" fill="#f7ecdc" stroke="#3a1f15" stroke-width="7" stroke-linejoin="round"/>
<path d="M165,140 Q160,85 178,70 Q198,95 196,140 Z" fill="#e2b9a6"/>
<path d="M432,160 Q454,62 410,46 Q366,72 370,150 Z" fill="#f7ecdc" stroke="#3a1f15" stroke-width="7" stroke-linejoin="round"/>
<path d="M419,140 Q424,85 406,70 Q386,95 388,140 Z" fill="#e2b9a6"/>
<path d="M292,120 L257,84 M292,120 L328,84" stroke="#3a1f15" stroke-width="6" fill="none" stroke-linecap="round"/>
<circle cx="255" cy="82" r="8" fill="#3a1f15"/><circle cx="330" cy="82" r="8" fill="#3a1f15"/>
<clipPath id="scr"><rect x="100" y="150" width="400" height="368"/></clipPath><g clip-path="url(#scr)">
<circle cx="390" cy="455" r="36" fill="#fbf4ea" stroke="#3a1f15" stroke-width="6"/>
<circle cx="376" cy="490" r="36" fill="#fbf4ea" stroke="#3a1f15" stroke-width="6"/>
<circle cx="338" cy="516" r="36" fill="#fbf4ea" stroke="#3a1f15" stroke-width="6"/>
<circle cx="285" cy="525" r="36" fill="#fbf4ea" stroke="#3a1f15" stroke-width="6"/>
<circle cx="233" cy="516" r="36" fill="#fbf4ea" stroke="#3a1f15" stroke-width="6"/>
<circle cx="194" cy="490" r="36" fill="#fbf4ea" stroke="#3a1f15" stroke-width="6"/>
<circle cx="180" cy="455" r="36" fill="#fbf4ea" stroke="#3a1f15" stroke-width="6"/>
<circle cx="194" cy="420" r="36" fill="#fbf4ea" stroke="#3a1f15" stroke-width="6"/>
<circle cx="232" cy="394" r="36" fill="#fbf4ea" stroke="#3a1f15" stroke-width="6"/>
<circle cx="285" cy="385" r="36" fill="#fbf4ea" stroke="#3a1f15" stroke-width="6"/>
<circle cx="338" cy="394" r="36" fill="#fbf4ea" stroke="#3a1f15" stroke-width="6"/>
<circle cx="376" cy="420" r="36" fill="#fbf4ea" stroke="#3a1f15" stroke-width="6"/>
<ellipse cx="285" cy="455" rx="115" ry="80" fill="#fbf4ea"/>
<circle cx="390" cy="455" r="33" fill="#fbf4ea"/>
<circle cx="376" cy="490" r="33" fill="#fbf4ea"/>
<circle cx="338" cy="516" r="33" fill="#fbf4ea"/>
<circle cx="285" cy="525" r="33" fill="#fbf4ea"/>
<circle cx="233" cy="516" r="33" fill="#fbf4ea"/>
<circle cx="194" cy="490" r="33" fill="#fbf4ea"/>
<circle cx="180" cy="455" r="33" fill="#fbf4ea"/>
<circle cx="194" cy="420" r="33" fill="#fbf4ea"/>
<circle cx="232" cy="394" r="33" fill="#fbf4ea"/>
<circle cx="285" cy="385" r="33" fill="#fbf4ea"/>
<circle cx="338" cy="394" r="33" fill="#fbf4ea"/>
<circle cx="376" cy="420" r="33" fill="#fbf4ea"/>
<path d="M200,430 Q250,470 300,440 Q340,470 380,430 L380,400 L200,400 Z" fill="#dcb9a1"/>
<path d="M230,500 Q285,470 340,500 L340,520 L230,520 Z" fill="#e5c7b2"/>
</g>
<path d="M100,508 H506 V520 Q506,522 500,522 H106 Q100,522 100,520 Z" fill="#7d5a4b"/>
<path d="M92,520 H504" stroke="#3a1f15" stroke-width="5"/>
<circle cx="408" cy="254" r="42" fill="#fbf4ea" stroke="#3a1f15" stroke-width="6"/>
<circle cx="386" cy="293" r="42" fill="#fbf4ea" stroke="#3a1f15" stroke-width="6"/>
<circle cx="346" cy="320" r="42" fill="#fbf4ea" stroke="#3a1f15" stroke-width="6"/>
<circle cx="295" cy="331" r="42" fill="#fbf4ea" stroke="#3a1f15" stroke-width="6"/>
<circle cx="243" cy="322" r="42" fill="#fbf4ea" stroke="#3a1f15" stroke-width="6"/>
<circle cx="202" cy="297" r="42" fill="#fbf4ea" stroke="#3a1f15" stroke-width="6"/>
<circle cx="178" cy="259" r="42" fill="#fbf4ea" stroke="#3a1f15" stroke-width="6"/>
<circle cx="176" cy="216" r="42" fill="#fbf4ea" stroke="#3a1f15" stroke-width="6"/>
<circle cx="198" cy="177" r="42" fill="#fbf4ea" stroke="#3a1f15" stroke-width="6"/>
<circle cx="238" cy="150" r="42" fill="#fbf4ea" stroke="#3a1f15" stroke-width="6"/>
<circle cx="289" cy="139" r="42" fill="#fbf4ea" stroke="#3a1f15" stroke-width="6"/>
<circle cx="341" cy="148" r="42" fill="#fbf4ea" stroke="#3a1f15" stroke-width="6"/>
<circle cx="382" cy="173" r="42" fill="#fbf4ea" stroke="#3a1f15" stroke-width="6"/>
<circle cx="406" cy="211" r="42" fill="#fbf4ea" stroke="#3a1f15" stroke-width="6"/>
<ellipse cx="292" cy="235" rx="130" ry="108" fill="#fbf4ea"/>
<circle cx="408" cy="254" r="39" fill="#fbf4ea"/>
<circle cx="386" cy="293" r="39" fill="#fbf4ea"/>
<circle cx="346" cy="320" r="39" fill="#fbf4ea"/>
<circle cx="295" cy="331" r="39" fill="#fbf4ea"/>
<circle cx="243" cy="322" r="39" fill="#fbf4ea"/>
<circle cx="202" cy="297" r="39" fill="#fbf4ea"/>
<circle cx="178" cy="259" r="39" fill="#fbf4ea"/>
<circle cx="176" cy="216" r="39" fill="#fbf4ea"/>
<circle cx="198" cy="177" r="39" fill="#fbf4ea"/>
<circle cx="238" cy="150" r="39" fill="#fbf4ea"/>
<circle cx="289" cy="139" r="39" fill="#fbf4ea"/>
<circle cx="341" cy="148" r="39" fill="#fbf4ea"/>
<circle cx="382" cy="173" r="39" fill="#fbf4ea"/>
<circle cx="406" cy="211" r="39" fill="#fbf4ea"/>
<circle cx="225" cy="375" r="34" fill="#fbf4ea" stroke="#3a1f15" stroke-width="5"/>
<circle cx="270" cy="392" r="34" fill="#fbf4ea" stroke="#3a1f15" stroke-width="5"/>
<circle cx="318" cy="392" r="34" fill="#fbf4ea" stroke="#3a1f15" stroke-width="5"/>
<circle cx="362" cy="375" r="34" fill="#fbf4ea" stroke="#3a1f15" stroke-width="5"/>
<circle cx="225" cy="367" r="32" fill="#fbf4ea"/>
<circle cx="270" cy="384" r="32" fill="#fbf4ea"/>
<circle cx="318" cy="384" r="32" fill="#fbf4ea"/>
<circle cx="362" cy="367" r="32" fill="#fbf4ea"/>
<path d="M200,265 Q215,215 262,222 Q292,205 322,222 Q372,215 388,265 Q402,300 380,330 Q360,372 292,372 Q226,372 206,330 Q186,300 200,265 Z" fill="#fffaf3" stroke="#3a1f15" stroke-width="4"/>
<ellipse cx="294" cy="330" rx="42" ry="30" fill="#ffffff"/>
<path d="M282,316 L294,326 L306,316 M294,326 V342 M284,348 Q294,342 304,348" stroke="#3a1f15" stroke-width="4.5" fill="none" stroke-linecap="round"/>
<circle cx="357" cy="290" r="25" fill="#2a1610"/><circle cx="364" cy="281" r="7" fill="#fff"/>
<circle cx="215" cy="270" r="68" fill="#e9d6c8"/>
<path d="M160,250 Q175,205 225,208 Q270,212 280,260 Q282,310 240,332 Q190,340 165,300 Z" fill="#f6ebe0"/>
<circle cx="225" cy="290" r="27" fill="#2a1610"/><circle cx="233" cy="280" r="8" fill="#fff"/>
<circle cx="215" cy="270" r="70" fill="none" stroke="#1b100d" stroke-width="13"/>
<circle cx="215" cy="270" r="60" fill="none" stroke="#ffffff" stroke-width="3" opacity="0.6"/>
<path d="M192,348 L166,452" stroke="#1b100d" stroke-width="28" stroke-linecap="round"/>
<path d="M192,350 L167,450" stroke="#7a3f28" stroke-width="17" stroke-linecap="round"/>
<path d="M186,340 L200,344" stroke="#d8d0c8" stroke-width="14" stroke-linecap="butt"/>
<circle cx="150" cy="470" r="24" fill="#fbf4ea" stroke="#3a1f15" stroke-width="5"/>
<circle cx="178" cy="478" r="24" fill="#fbf4ea" stroke="#3a1f15" stroke-width="5"/>
<circle cx="160" cy="498" r="24" fill="#fbf4ea" stroke="#3a1f15" stroke-width="5"/>
<circle cx="190" cy="500" r="22" fill="#fbf4ea" stroke="#3a1f15" stroke-width="5"/>
<circle cx="150" cy="470" r="22" fill="#fbf4ea"/>
<circle cx="178" cy="478" r="22" fill="#fbf4ea"/>
<circle cx="160" cy="498" r="22" fill="#fbf4ea"/>
<circle cx="190" cy="500" r="20" fill="#fbf4ea"/>
<circle cx="478" cy="484" r="30" fill="#fbf4ea" stroke="#3a1f15" stroke-width="6"/>
<circle cx="461" cy="508" r="30" fill="#fbf4ea" stroke="#3a1f15" stroke-width="6"/>
<circle cx="433" cy="518" r="30" fill="#fbf4ea" stroke="#3a1f15" stroke-width="6"/>
<circle cx="404" cy="509" r="30" fill="#fbf4ea" stroke="#3a1f15" stroke-width="6"/>
<circle cx="387" cy="485" r="30" fill="#fbf4ea" stroke="#3a1f15" stroke-width="6"/>
<circle cx="386" cy="456" r="30" fill="#fbf4ea" stroke="#3a1f15" stroke-width="6"/>
<circle cx="403" cy="432" r="30" fill="#fbf4ea" stroke="#3a1f15" stroke-width="6"/>
<circle cx="431" cy="422" r="30" fill="#fbf4ea" stroke="#3a1f15" stroke-width="6"/>
<circle cx="460" cy="431" r="30" fill="#fbf4ea" stroke="#3a1f15" stroke-width="6"/>
<circle cx="477" cy="455" r="30" fill="#fbf4ea" stroke="#3a1f15" stroke-width="6"/>
<circle cx="432" cy="470" r="56" fill="#fbf4ea"/>
<circle cx="478" cy="484" r="27" fill="#fbf4ea"/>
<circle cx="461" cy="508" r="27" fill="#fbf4ea"/>
<circle cx="433" cy="518" r="27" fill="#fbf4ea"/>
<circle cx="404" cy="509" r="27" fill="#fbf4ea"/>
<circle cx="387" cy="485" r="27" fill="#fbf4ea"/>
<circle cx="386" cy="456" r="27" fill="#fbf4ea"/>
<circle cx="403" cy="432" r="27" fill="#fbf4ea"/>
<circle cx="431" cy="422" r="27" fill="#fbf4ea"/>
<circle cx="460" cy="431" r="27" fill="#fbf4ea"/>
<circle cx="477" cy="455" r="27" fill="#fbf4ea"/>
<path d="M385,500 Q400,535 450,540 Q420,520 405,480 Z" fill="#e3c3ae"/>
</g>
  <text class="k b" x="839" y="170" font-size="24.5" font-weight="bold" textLength="134" lengthAdjust="spacingAndGlyphs">VideoRefer</text>
</g>

<!-- vertical dashed divider -->
<path d="M989.5,13.9 V763.6" stroke="#555555" stroke-width="3" stroke-dasharray="9.55 3.473" stroke-dashoffset="6.75" fill="none"/>

<!-- ================= RIGHT SIDE ================= -->
<g id="right">
  <!-- Object Encoder panel -->
  <rect x="1006" y="16.5" width="1737.5" height="0" fill="none"/>
  <rect x="1006" y="16.5" width="737.5" height="227.5" rx="24" fill="#eef2f9"/>
  <!-- TTM panel -->
  <rect x="1008.3" y="256" width="737.1" height="511.3" rx="30" fill="#fef6e3"/>

  <text class="k b" x="1024.5" y="59.6" font-size="37.4" font-weight="bold" font-style="italic" textLength="269.7" lengthAdjust="spacingAndGlyphs">Object Encoder</text>
  <rect x="1022.8" y="65.2" width="270.4" height="2.2" fill="#000"/>

  <!-- feature-map cuboids -->
  <g stroke="#14285a" stroke-width="1.5" stroke-linejoin="round">
    <path d="M1020.8,82.4 L1027.5,75.7 H1089.5 V159.8 L1082.8,166.5 Z" fill="#f4f4f4"/>
    <rect x="1020.8" y="82.4" width="62" height="84.1" fill="#dcdcdc"/>
    <path d="M1082.8,82.4 L1089.5,75.7 V159.8 L1082.8,166.5 Z" fill="#d6d6d6"/>
  </g>
  <g transform="translate(1010,70) scale(0.16113)">
  <clipPath id="fp1c"><path id="fp1p" d="M220,112 Q252,112 255,150 L246,186 L290,214 L311,262 L321,330 L302,346 L311,372 L346,440 L376,500 L389,536 L376,561 L330,563 L325,546 L345,525 L300,442 L268,400 L242,452 L223,520 L226,561 L141,571 L138,551 L180,535 L195,440 L216,370 L223,320 L215,250 L212,202 L191,176 Q186,114 220,112 Z"/></clipPath>
  <g clip-path="url(#fp1c)">
    <rect x="130" y="100" width="270" height="90" fill="#b58d74"/>
    <rect x="186" y="100" width="80" height="42" fill="#7e7470"/>
    <rect x="130" y="188" width="270" height="160" fill="#797a7f"/>
    <rect x="130" y="345" width="270" height="185" fill="#a59c88"/>
    <rect x="130" y="528" width="270" height="50" fill="#6a665e"/>
    <path d="M300,260 L318,330 L300,346 L290,300 Z" fill="#5f6066"/>
  </g>
  <use href="#fp1p" fill="none" stroke="#f08a3c" stroke-width="13" stroke-linejoin="round" opacity="0.95"/>
</g>
  <g stroke="#14285a" stroke-width="1.5" stroke-linejoin="round">
    <path d="M1074.8,97.8 L1081,91.1 H1140.2 V177.6 L1134,184.3 Z" fill="#f4f4f4"/>
    <rect x="1074.8" y="97.8" width="59.2" height="86.5" fill="#d2d2d2"/>
    <path d="M1134,97.8 L1140.2,91.1 V177.6 L1134,184.3 Z" fill="#dadada"/>
  </g>
  <g transform="translate(1010,70) scale(0.16113)">
  <clipPath id="fp2c"><path id="fp2p" d="M520,203 Q560,205 562,248 L592,264 L622,300 L652,380 L672,455 L662,481 L642,491 L652,540 L672,630 L685,665 L672,686 L615,684 L612,668 L630,655 L610,560 L590,556 L570,556 L566,620 L561,666 L550,686 L488,684 L486,668 L520,655 L525,560 L520,490 L525,420 L525,330 L520,292 L496,266 Q476,205 520,203 Z"/></clipPath>
  <g clip-path="url(#fp2c)">
    <rect x="470" y="195" width="230" height="90" fill="#15151a"/>
    <path d="M496,262 L528,250 L545,285 L520,296 Z" fill="#c49a80"/>
    <rect x="470" y="282" width="230" height="212" fill="#1d2038"/>
    <rect x="470" y="490" width="230" height="170" fill="#b3ada0"/>
    <path d="M560,470 L640,470 L612,548 L570,548 Z" fill="#23263f"/>
    <rect x="470" y="658" width="230" height="40" fill="#3c3a38"/>
    <circle cx="556" cy="468" r="14" fill="#c49a80"/>
  </g>
  <use href="#fp2p" fill="none" stroke="#72b843" stroke-width="12" stroke-linejoin="round" opacity="0.95"/>
</g>
  <text class="d" x="1009.4" y="209.4" font-size="23.5" textLength="130.6" lengthAdjust="spacingAndGlyphs">Feature Map</text>
  <text class="d" x="1038.6" y="239.5" font-size="23.5" textLength="72" lengthAdjust="spacingAndGlyphs">&amp;Mask</text>

  <!-- arrow cuboid -> STE -->
  <path d="M1141,145.7 H1152" stroke="#404040" stroke-width="2.6" fill="none"/>
  <path d="M1161.5,145.7 L1150.5,140.2 V151.2 Z" fill="#404040"/>

  <!-- Spatial Token Extractor -->
  <rect x="1164" y="98.7" width="210.5" height="91.4" rx="15" fill="#ededed" stroke="#595959" stroke-width="3"/>
  <text class="g" x="1181" y="136.3" font-size="29" textLength="174" lengthAdjust="spacingAndGlyphs">Spatial Token</text>
  <text class="g" x="1209.4" y="174.2" font-size="29" textLength="119.6" lengthAdjust="spacingAndGlyphs">Extractor</text>

  <!-- bypass -->
  <path d="M1376,148 H1390" stroke="#404040" stroke-width="2.8" fill="none"/>
  <path d="M1400,148 L1389,142.5 V153.5 Z" fill="#404040"/>
  <path d="M1381,148 V68 H1575 V102" stroke="#404040" stroke-width="2.8" fill="none"/>
  <path d="M1575,111.5 L1569.5,100.5 H1580.5 Z" fill="#404040"/>
  <text class="o" x="1394" y="57.8" font-size="29" textLength="165.7" lengthAdjust="spacingAndGlyphs">Single frame</text>

  <!-- TTM -->
  <rect x="1399.5" y="108.5" width="108.7" height="78.8" rx="14" fill="#fff2cc" stroke="#595959" stroke-width="3"/>
  <text class="k" x="1424.6" y="159.9" font-size="29" textLength="57.8" lengthAdjust="spacingAndGlyphs">TTM</text>
  <path d="M1510,148.6 H1524" stroke="#404040" stroke-width="2.8" fill="none"/>
  <path d="M1534,148.6 L1523,143.1 V154.1 Z" fill="#404040"/>

  <!-- MLP -->
  <rect x="1536.5" y="111.4" width="99" height="79.1" rx="14" fill="#ededed" stroke="#595959" stroke-width="3"/>
  <text class="g" x="1558.3" y="162.6" font-size="29" textLength="56.1" lengthAdjust="spacingAndGlyphs">MLP</text>
  <path d="M1638,146.3 H1652" stroke="#404040" stroke-width="2.8" fill="none"/>
  <path d="M1662,146.3 L1651,140.8 V151.8 Z" fill="#404040"/>

  <!-- bars -->
  <g stroke="#14285a" stroke-width="1.6" stroke-linejoin="round">
    <!-- bottom-left bar -->
    <path d="M1655,162.6 L1697,120.6 H1719 L1677,162.6 Z" fill="#a9bce6"/>
    <path d="M1677,162.6 L1719,120.6 V141.7 L1677,183.7 Z" fill="#7589b8"/>
    <rect x="1655" y="162.6" width="22" height="21.1" fill="#8faadc"/>
    <!-- bottom-right bar -->
    <path d="M1680.7,165.6 L1723.9,122.4 H1745.4 L1701.8,165.6 Z" fill="#a9bce6"/>
    <path d="M1701.8,165.6 L1745.4,122.4 V143.2 L1701.8,186.4 Z" fill="#7589b8"/>
    <rect x="1680.7" y="165.6" width="21.1" height="20.8" fill="#8faadc"/>
    <!-- top bar -->
    <path d="M1677.3,130 L1720,86.7 H1741 L1698.4,130 Z" fill="#a9bce6"/>
    <path d="M1698.4,130 L1741,86.7 V107.6 L1698.4,150.3 Z" fill="#7589b8"/>
    <rect x="1677.3" y="130" width="21.1" height="20.3" fill="#8faadc"/>
  </g>

  <text class="o" x="1362.7" y="225.2" font-size="29" textLength="169.1" lengthAdjust="spacingAndGlyphs">Multi frames</text>

  <!-- gold dashed lines -->
  <path d="M1393.7,190.3 L1016.8,258" stroke="#bf9000" stroke-width="3" stroke-dasharray="29 11.1" fill="none"/>
  <path d="M1505.6,188.8 L1737.5,263.6" stroke="#bf9000" stroke-width="3" stroke-dasharray="2 10 29.7 10.9 29.7 10.9 29.7 10.9 29.7 10.9 29.7 10.9 29.7 10.9" fill="none"/>

  <text class="k b" x="1024.5" y="293.6" font-size="31.3" font-weight="bold" font-style="italic" textLength="355.1" lengthAdjust="spacingAndGlyphs">Temporal Token Merge</text>
  <rect x="1021.8" y="298.6" width="357.8" height="2" fill="#000"/>

  <!-- box 1 -->
  <rect x="1065.8" y="312.2" width="621.4" height="117.8" rx="17.5" fill="none" stroke="#595959" stroke-width="3.5"/>
  <circle cx="1151" cy="349" r="24.8" fill="url(#gCirc)" stroke="#808080" stroke-width="2.2"/>
<circle cx="1217.9" cy="349" r="24.8" fill="url(#gCircB)" stroke="#808080" stroke-width="2.2"/>
<circle cx="1284.5" cy="349" r="24.8" fill="url(#gCirc)" stroke="#808080" stroke-width="2.2"/>
<circle cx="1351.8" cy="351.2" r="24.8" fill="url(#gCircB)" stroke="#808080" stroke-width="2.2"/>
<circle cx="1417.6" cy="349" r="24.8" fill="url(#gCirc)" stroke="#808080" stroke-width="2.2"/>
<circle cx="1484" cy="349.9" r="24.8" fill="url(#gCircB)" stroke="#808080" stroke-width="2.2"/>
<circle cx="1599.5" cy="349" r="24.8" fill="url(#gCirc)" stroke="#808080" stroke-width="2.2"/>
  <text class="k" x="1139.4" y="358.9" font-size="28.5" textLength="9.8" lengthAdjust="spacingAndGlyphs">t</text><text class="k" x="1151.6" y="363.6" font-size="18.4">1</text>
<text class="k" x="1206.3" y="358.9" font-size="28.5" textLength="9.8" lengthAdjust="spacingAndGlyphs">t</text><text class="k" x="1218.5" y="363.6" font-size="18.4">2</text>
<text class="k" x="1272.9" y="358.9" font-size="28.5" textLength="9.8" lengthAdjust="spacingAndGlyphs">t</text><text class="k" x="1285.1" y="363.6" font-size="18.4">3</text>
<text class="k" x="1340.2" y="361.1" font-size="28.5" textLength="9.8" lengthAdjust="spacingAndGlyphs">t</text><text class="k" x="1352.4" y="365.8" font-size="18.4">4</text>
<text class="k" x="1406.0" y="358.9" font-size="28.5" textLength="9.8" lengthAdjust="spacingAndGlyphs">t</text><text class="k" x="1418.2" y="363.6" font-size="18.4">5</text>
<text class="k" x="1472.4" y="359.8" font-size="28.5" textLength="9.8" lengthAdjust="spacingAndGlyphs">t</text><text class="k" x="1484.6" y="364.5" font-size="18.4">6</text>
<text class="k" x="1587.9" y="358.9" font-size="28.5" textLength="9.8" lengthAdjust="spacingAndGlyphs">t</text><text class="k" x="1600.1" y="363.6" font-size="18.4">n</text><g fill="#000"><circle cx="1533.4" cy="349" r="2.0"/><circle cx="1540.6" cy="349" r="2.0"/><circle cx="1547.8" cy="349" r="2.0"/></g>
  <text class="k" x="1085.5" y="409.2" font-size="25.5" textLength="588.3" lengthAdjust="spacingAndGlyphs">1. Extract region tokens by Spatial Token Extractor</text>

  <!-- down arrow 1 -->
  <path d="M1353,435.6 H1373.8 V450.3 H1384.4 L1363.4,464.6 L1342.4,450.3 H1353 Z" fill="none" stroke="#10204d" stroke-width="2.25"/>

  <!-- box 2 -->
  <rect x="1069.3" y="471.9" width="622.1" height="141.8" rx="21.5" fill="none" stroke="#595959" stroke-width="3.5"/>
  <g stroke="#4472c4" stroke-width="2.6" fill="none">
    <path d="M1154.5,508.9 L1221.3,532.5 M1221.3,532.5 L1288,508.9 L1354.4,533.3 L1421,508 L1488.2,533.3" style="display:none"/>
    <path d="M1176.5,505 L1199,531"/>
    <path d="M1244,530 L1267,503"/>
    <path d="M1310,505 L1332,531"/>
    <path d="M1377.5,531 L1399,503"/>
    <path d="M1443,503 L1466,531"/>
  </g>
  <circle cx="1154.5" cy="508.9" r="24.8" fill="url(#gCirc)" stroke="#808080" stroke-width="2.2"/>
<circle cx="1221.3" cy="532.5" r="24.8" fill="url(#gCircB)" stroke="#808080" stroke-width="2.2"/>
<circle cx="1288" cy="508.9" r="24.8" fill="url(#gCirc)" stroke="#808080" stroke-width="2.2"/>
<circle cx="1354.4" cy="533.3" r="24.8" fill="url(#gCircB)" stroke="#808080" stroke-width="2.2"/>
<circle cx="1421" cy="508" r="24.8" fill="url(#gCirc)" stroke="#808080" stroke-width="2.2"/>
<circle cx="1488.2" cy="533.3" r="24.8" fill="url(#gCircB)" stroke="#808080" stroke-width="2.2"/>
<circle cx="1603.4" cy="508" r="24.8" fill="url(#gCirc)" stroke="#808080" stroke-width="2.2"/>
  <text class="k" x="1142.9" y="518.8" font-size="28.5" textLength="9.8" lengthAdjust="spacingAndGlyphs">t</text><text class="k" x="1155.1" y="523.5" font-size="18.4">1</text>
<text class="k" x="1209.7" y="542.4" font-size="28.5" textLength="9.8" lengthAdjust="spacingAndGlyphs">t</text><text class="k" x="1221.9" y="547.1" font-size="18.4">2</text>
<text class="k" x="1276.4" y="518.8" font-size="28.5" textLength="9.8" lengthAdjust="spacingAndGlyphs">t</text><text class="k" x="1288.6" y="523.5" font-size="18.4">3</text>
<text class="k" x="1342.8" y="543.2" font-size="28.5" textLength="9.8" lengthAdjust="spacingAndGlyphs">t</text><text class="k" x="1355.0" y="547.9" font-size="18.4">4</text>
<text class="k" x="1409.4" y="517.9" font-size="28.5" textLength="9.8" lengthAdjust="spacingAndGlyphs">t</text><text class="k" x="1421.6" y="522.6" font-size="18.4">5</text>
<text class="k" x="1476.6" y="543.2" font-size="28.5" textLength="9.8" lengthAdjust="spacingAndGlyphs">t</text><text class="k" x="1488.8" y="547.9" font-size="18.4">6</text>
<text class="k" x="1591.8" y="517.9" font-size="28.5" textLength="9.8" lengthAdjust="spacingAndGlyphs">t</text><text class="k" x="1604.0" y="522.6" font-size="18.4">n</text><g fill="#000"><circle cx="1536.8" cy="509.7" r="2.0"/><circle cx="1544.0" cy="509.7" r="2.0"/><circle cx="1551.2" cy="509.7" r="2.0"/></g>
  <text class="k" x="1100.7" y="599.3" font-size="25.5" textLength="555.6" lengthAdjust="spacingAndGlyphs">2. Calculate similarity between adjacent tokens</text>

  <!-- down arrow 2 -->
  <path d="M1353,619.2 H1373.8 V633.9 H1384.4 L1363.4,648.2 L1342.4,633.9 H1353 Z" fill="none" stroke="#10204d" stroke-width="2.25"/>

  <!-- box 3 -->
  <rect x="1069.3" y="652.1" width="622.1" height="104.3" rx="18.5" fill="none" stroke="#595959" stroke-width="3.5"/>
  <circle cx="1202" cy="684.3" r="24.8" fill="url(#gCircE)" stroke="#808080" stroke-width="2.2"/>
<circle cx="1309.1" cy="684.7" r="24.8" fill="url(#gCircB)" stroke="#808080" stroke-width="2.2"/>
<circle cx="1427" cy="684.3" r="24.8" fill="url(#gCircD)" stroke="#808080" stroke-width="2.2"/>
<circle cx="1575.9" cy="685.9" r="24.8" fill="url(#gCirc)" stroke="#808080" stroke-width="2.2"/>
  <text class="k" x="1182.5" y="692.2" font-size="28.5" textLength="9.6" lengthAdjust="spacingAndGlyphs">t</text><text class="k" x="1193.8" y="696.7" font-size="18.4" textLength="31.5" lengthAdjust="spacingAndGlyphs">123</text><text class="k" x="1297.2" y="695.0" font-size="28.5" textLength="9.8" lengthAdjust="spacingAndGlyphs">t</text><text class="k" x="1308.0" y="699.5" font-size="18.4">4</text><text class="k" x="1412.0" y="693.4" font-size="28.5" textLength="9.6" lengthAdjust="spacingAndGlyphs">t</text><text class="k" x="1423.2" y="698.6" font-size="18.4" textLength="21.1" lengthAdjust="spacingAndGlyphs">56</text><text class="k" x="1564.5" y="695.8" font-size="28.5" textLength="9.8" lengthAdjust="spacingAndGlyphs">t</text><text class="k" x="1576.2" y="700.8" font-size="18.4">n</text><g fill="#000"><circle cx="1509.2" cy="685.7" r="2.0"/><circle cx="1516.4" cy="685.7" r="2.0"/><circle cx="1523.6" cy="685.7" r="2.0"/></g>
  <text class="k" x="1166.3" y="741" font-size="25.5" textLength="410.7" lengthAdjust="spacingAndGlyphs">3. Merge the top n-r similar tokens</text>
</g>

</svg>
</body>
</html>
